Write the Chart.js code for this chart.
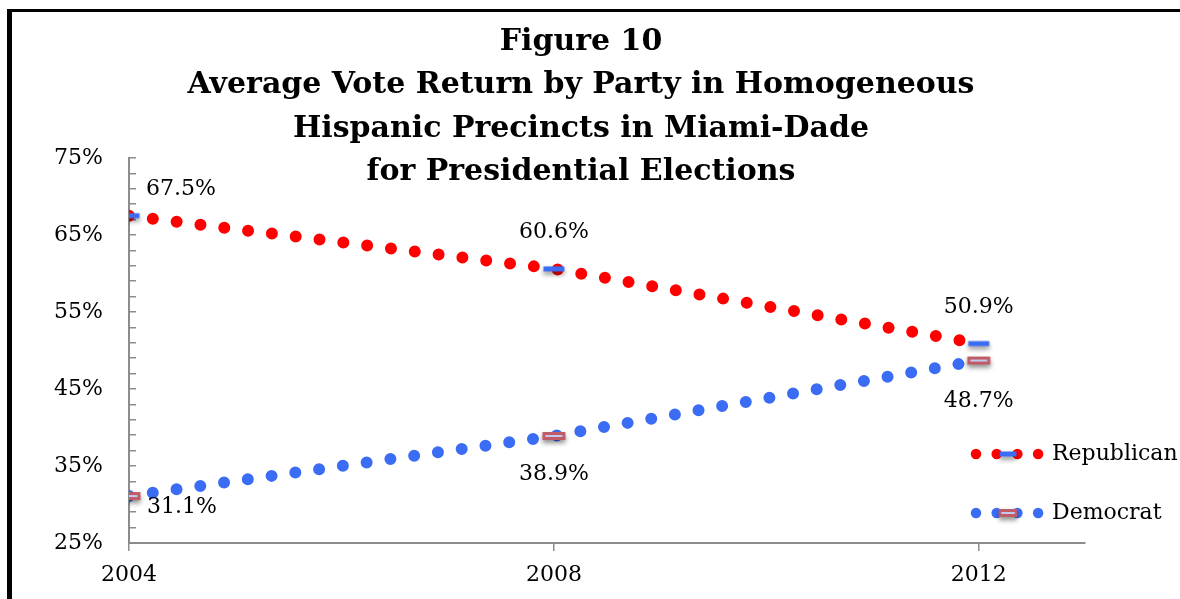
<!DOCTYPE html>
<html>
  <head>
    <meta charset="utf-8">
    <style type="text/css">
      body { margin: 0; background: #fff; overflow: hidden; }
      .chart-container { position: relative; width: 1180px; height: 599px; }
      .frame {
        position: absolute; left: 7px; top: 9px; width: 1300px; height: 700px;
        border-top: 3px solid #000; border-left: 5px solid #000; pointer-events: none;
      }
    </style>
  </head>
  <body>
    <script src="https://cdn.jsdelivr.net/npm/chart.js@4.4.0/dist/chart.umd.min.js"></script>

    <div class="chart-container">
      <canvas id="myChart" width="1180" height="599"></canvas>
      <div class="frame"></div>
    </div>

    <script>
      /* datas */
      const years = [2004, 2008, 2012];
      const republican = [67.5, 60.6, 50.9];
      const democrat = [31.1, 38.9, 48.7];
      const seriesNames = ['Republican', 'Democrat'];
      const yLabelTicks = [25, 35, 45, 55, 65, 75];
      const xTickYears = [2004, 2008, 2012];
      const titleLines = ['Figure 10', 'Average Vote Return by Party in Homogeneous',
                          'Hispanic Precincts in Miami-Dade', 'for Presidential Elections'];

      const serif = '"DejaVu Serif", "Liberation Serif", serif';
      const red = '#ff0000';
      const blue = '#3b6cf4';
      const axisGray = '#8c8c8c';

      // little dash markers with a soft drop shadow
      function makeMarker(kind) {
        const c = document.createElement('canvas');
        c.width = 34; c.height = 24;
        const g = c.getContext('2d');
        g.shadowColor = 'rgba(0,0,0,0.45)';
        g.shadowBlur = 5;
        g.shadowOffsetY = 3;
        if (kind === 'rep') {
          g.fillStyle = blue;
          g.fillRect(6.5, 9.5, 21, 5);
        } else {
          g.fillStyle = '#c05c66';
          g.fillRect(5.5, 8, 23, 8);
          g.shadowColor = 'transparent';
          g.fillStyle = '#c3c8f0';
          g.fillRect(8.5, 11, 17, 2);
        }
        return c;
      }
      const repMarker = makeMarker('rep');
      const demMarker = makeMarker('dem');

      // label offsets from each point, [dataset][point]
      const labelOffsets = [
        [[52, -26], [0, -37], [0, -36]],
        [[53, 11], [0, 38], [0, 41]]
      ];

      const titlePlugin = {
        id: 'stackedTitle',
        afterDraw(chart) {
          const ctx = chart.ctx;
          ctx.save();
          ctx.fillStyle = '#000';
          ctx.font = 'bold 30px ' + serif;
          ctx.textAlign = 'center';
          ctx.textBaseline = 'alphabetic';
          titleLines.forEach((t, i) => ctx.fillText(t, 581, 50 + i * 43.3));
          ctx.restore();
        }
      };

      const valueLabels = {
        id: 'valueLabels',
        afterDatasetsDraw(chart) {
          const ctx = chart.ctx;
          ctx.save();
          ctx.fillStyle = '#000';
          ctx.font = '22px ' + serif;
          ctx.textAlign = 'center';
          ctx.textBaseline = 'middle';
          chart.data.datasets.forEach((ds, di) => {
            chart.getDatasetMeta(di).data.forEach((pt, i) => {
              const off = labelOffsets[di][i];
              ctx.fillText(ds.data[i].y.toFixed(1) + '%', pt.x + off[0], pt.y + off[1]);
            });
          });
          ctx.restore();
        }
      };

      const sideLegend = {
        id: 'sideLegend',
        afterDraw(chart) {
          const ctx = chart.ctx;
          const rows = [454, 513];
          ctx.save();
          chart.data.datasets.forEach((ds, di) => {
            const y = rows[di];
            ctx.strokeStyle = ds.borderColor;
            ctx.lineWidth = 10.5;
            ctx.lineCap = 'round';
            ctx.setLineDash([0, 20.7]);
            ctx.beginPath();
            ctx.moveTo(976, y);
            ctx.lineTo(1039, y);
            ctx.stroke();
            const m = ds.pointStyle;
            const w = m.width * 0.8;
            ctx.drawImage(m, 1008 - w / 2, y - m.height / 2, w, m.height);
            ctx.fillStyle = '#000';
            ctx.font = '22px ' + serif;
            ctx.textAlign = 'left';
            ctx.textBaseline = 'middle';
            ctx.fillText(ds.label, 1052, y);
          });
          ctx.restore();
        }
      };

      const myChart = new Chart('myChart', {
        type: 'line',
        data: {
          datasets: [{
            label: seriesNames[0],
            data: years.map((x, i) => ({x: x, y: republican[i]})),
            borderColor: red,
            borderWidth: 12,
            borderDash: [0, 24],
            borderCapStyle: 'round',
            tension: 0,
            fill: false,
            pointStyle: repMarker,
            pointRadius: 6
          }, {
            label: seriesNames[1],
            data: years.map((x, i) => ({x: x, y: democrat[i]})),
            borderColor: blue,
            borderWidth: 12,
            borderDash: [0, 24],
            borderCapStyle: 'round',
            tension: 0,
            fill: false,
            pointStyle: demMarker,
            pointRadius: 6
          }]
        },
        options: {
          responsive: false,
          animation: false,
          layout: { padding: { top: 158, right: 95, bottom: 0, left: 0 } },
          plugins: {
            legend: { display: false },
            title: { display: false },
            tooltip: { enabled: false }
          },
          scales: {
            x: {
              type: 'linear',
              min: 2004,
              max: 2013,
              afterBuildTicks: (scale) => { scale.ticks = xTickYears.map(v => ({value: v})); },
              afterFit: (scale) => { scale.height = 56; },
              border: { color: axisGray, width: 2 },
              grid: { drawOnChartArea: false, tickLength: 8, color: axisGray, lineWidth: 1.5 },
              ticks: {
                color: '#000',
                font: { family: serif, size: 22 },
                padding: 11,
                maxRotation: 0,
                callback: (v) => String(v)
              }
            },
            y: {
              min: 25,
              max: 75,
              afterFit: (scale) => { scale.width = 129; },
              border: { color: axisGray, width: 2 },
              grid: { drawOnChartArea: false, tickLength: -7, color: axisGray, lineWidth: 1.5 },
              ticks: {
                stepSize: 2,
                autoSkip: false,
                color: '#000',
                font: { family: serif, size: 22 },
                padding: 33,
                callback: (v) => yLabelTicks.includes(v) ? v + '%' : ''
              }
            }
          }
        },
        plugins: [titlePlugin, valueLabels, sideLegend]
      });
    </script>
  </body>
</html>
